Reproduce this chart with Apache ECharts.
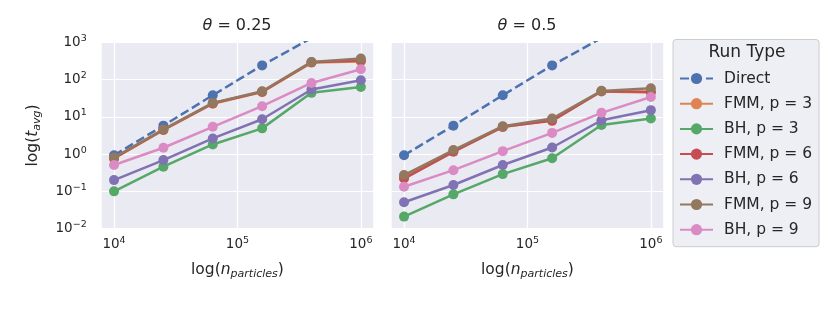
<!DOCTYPE html>
<html>
<head>
<meta charset="utf-8">
<script src="https://cdn.jsdelivr.net/npm/echarts@6/dist/echarts.min.js"></script>
<style>html,body{margin:0;padding:0;background:#fff}#c{width:830px;height:312px}</style>
</head>
<body>
<div id="c"></div>
<script>
// ---------- data ----------
const nParticles = [10000, 25119, 63096, 158489, 398107, 1000000];
const runTypes = ['Direct', 'FMM, p = 3', 'BH, p = 3', 'FMM, p = 6', 'BH, p = 6', 'FMM, p = 9', 'BH, p = 9'];
const panelTitles = ['0.25', '0.5'];
const xTickExponents = [4, 5, 6];
const yTickExponents = [-2, -1, 0, 1, 2, 3];

const directTimes = [0.93, 5.8, 38, 240, 1300, 8500];

// theta = 0.25
const fmm3_t025 = [0.76, 4.4, 22.5, 46, 285, 305];
const bh3_t025  = [0.10, 0.46, 1.81, 4.9, 44, 63];
const fmm6_t025 = [0.78, 4.5, 23, 47, 290, 325];
const bh6_t025  = [0.20, 0.69, 2.63, 8.6, 54, 96];
const fmm9_t025 = [0.81, 4.6, 23.7, 48.6, 297, 365];
const bh9_t025  = [0.51, 1.48, 5.4, 19.3, 81, 189];

// theta = 0.5
const fmm3_t05 = [0.24, 1.2, 5.3, 8.2, 48, 45];
const bh3_t05  = [0.021, 0.083, 0.29, 0.77, 6.0, 9.0];
const fmm6_t05 = [0.22, 1.15, 5.4, 7.8, 48.6, 47];
const bh6_t05  = [0.051, 0.148, 0.51, 1.5, 8.1, 15.1];
const fmm9_t05 = [0.274, 1.28, 5.6, 9.0, 49.7, 58.6];
const bh9_t05  = [0.133, 0.37, 1.2, 3.7, 12.8, 34];

const panels = [
  [directTimes, fmm3_t025, bh3_t025, fmm6_t025, bh6_t025, fmm9_t025, bh9_t025],
  [directTimes, fmm3_t05, bh3_t05, fmm6_t05, bh6_t05, fmm9_t05, bh9_t05]
];

// ---------- style ----------
const colors = ['#4C72B0', '#DD8452', '#55A868', '#C44E52', '#8172B3', '#937860', '#DA8BC3'];
const FONT = 'DejaVu Sans';
const TXT = '#262626';

function powLabel(v, exps) {
  const e = Math.round(Math.log10(v));
  if (exps.indexOf(e) < 0) return '';
  return '{b|10}{s|' + String(e).replace('-', '\u2212') + '}';
}
const tickRich = {
  b: {fontFamily: FONT, fontSize: 13.5, color: TXT, lineHeight: 18},
  s: {fontFamily: FONT, fontSize: 9.5, color: TXT, lineHeight: 10, verticalAlign: 'top'}
};

const gridLefts = [101.7, 391.7];
const gridW = 271.5;
const grids = gridLefts.map(l => ({
  left: l, top: 42.3, width: gridW, height: 186.3,
  show: true, backgroundColor: '#EAEAF2', borderWidth: 0, containLabel: false
}));

const nameRich = {
  n: {fontFamily: FONT, fontSize: 15.5, color: TXT, lineHeight: 20},
  i: {fontFamily: FONT, fontSize: 15.5, color: TXT, fontStyle: 'italic', lineHeight: 20},
  sub: {fontFamily: FONT, fontSize: 11, color: TXT, fontStyle: 'italic', lineHeight: 13, verticalAlign: 'bottom'}
};

const xAxes = gridLefts.map((l, gi) => ({
  gridIndex: gi, type: 'log', logBase: 10,
  min: Math.pow(10, 3.9), max: Math.pow(10, 6.1),
  axisLine: {show: false}, axisTick: {show: false},
  splitLine: {show: true, showMinLine: false, showMaxLine: false, lineStyle: {color: '#ffffff', width: 1.2}},
  axisLabel: {
    showMinLabel: false, showMaxLabel: false, margin: 7,
    rich: tickRich,
    formatter: v => powLabel(v, xTickExponents)
  },
  name: '{n|log(}{i|n}{sub|particles}{n|)}',
  nameLocation: 'middle', nameGap: 31,
  nameTextStyle: {rich: nameRich}
}));

const yAxes = gridLefts.map((l, gi) => ({
  gridIndex: gi, type: 'log', logBase: 10, min: 0.01, max: 1000,
  axisLine: {show: false}, axisTick: {show: false},
  splitLine: {show: true, lineStyle: {color: '#ffffff', width: 1.2}},
  axisLabel: {
    show: gi === 0, margin: 15,
    rich: tickRich,
    formatter: v => powLabel(v, yTickExponents)
  },
  name: gi === 0 ? '{n|log(}{i|t}{sub|avg}{n|)}' : '',
  nameLocation: 'middle', nameRotate: 90, nameGap: 59,
  nameTextStyle: {rich: nameRich}
}));

const series = [];
panels.forEach((arrs, gi) => {
  arrs.forEach((vals, si) => {
    series.push({
      name: runTypes[si], type: 'line',
      xAxisIndex: gi, yAxisIndex: gi,
      data: nParticles.map((x, k) => [x, vals[k]]),
      symbol: 'circle', symbolSize: 10, showSymbol: true,
      lineStyle: {color: colors[si], width: 2.5, type: si === 0 ? [9, 4] : 'solid'},
      itemStyle: {color: colors[si]},
      emphasis: {disabled: true},
      clip: true, z: 2 + si
    });
  });
});

const chart = echarts.init(document.getElementById('c'), null, {renderer: 'canvas'});
chart.setOption({
  animation: false,
  color: colors,
  grid: grids,
  xAxis: xAxes,
  yAxis: yAxes,
  series: series,
  legend: {
    data: runTypes, orient: 'vertical',
    left: 673, top: 39.5,
    padding: [31, 7, 9, 6],
    itemWidth: 33, itemHeight: 14, itemGap: 9.2,
    backgroundColor: '#EEEEF5', borderColor: '#CCCCCC', borderWidth: 1, borderRadius: 3,
    textStyle: {fontFamily: FONT, fontSize: 15.5, color: TXT, padding: [0, 0, 0, 6]},
    selectedMode: false
  },
  graphic: [
    {type: 'text', x: 237, y: 26, z: 100, style: {
      text: '{i|\u03B8} = ' + panelTitles[0], align: 'center', verticalAlign: 'middle',
      fontFamily: FONT, fontSize: 16, fill: TXT,
      rich: {i: {fontFamily: FONT, fontSize: 16, fontStyle: 'italic', fill: TXT}}
    }},
    {type: 'text', x: 527, y: 26, z: 100, style: {
      text: '{i|\u03B8} = ' + panelTitles[1], align: 'center', verticalAlign: 'middle',
      fontFamily: FONT, fontSize: 16, fill: TXT,
      rich: {i: {fontFamily: FONT, fontSize: 16, fontStyle: 'italic', fill: TXT}}
    }},
    {type: 'text', x: 747, y: 53, z: 100, style: {
      text: 'Run Type', align: 'center', verticalAlign: 'middle',
      fontFamily: FONT, fontSize: 17, fill: TXT
    }}
  ]
});
</script>
</body>
</html>
